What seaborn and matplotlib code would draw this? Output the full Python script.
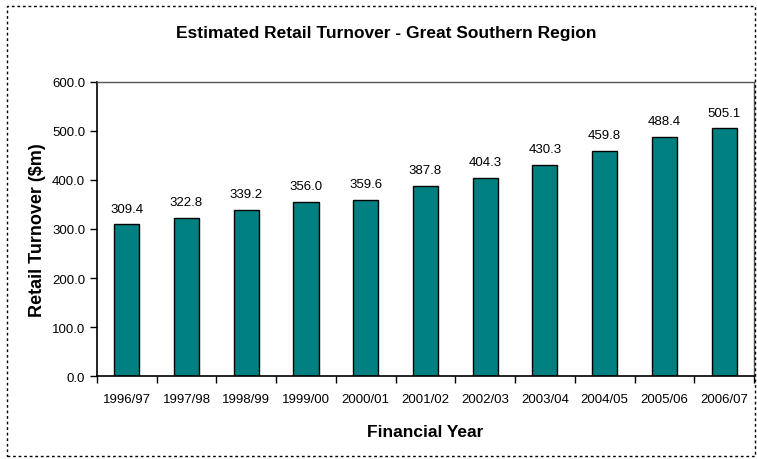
import seaborn as sns
import pandas as pd
import matplotlib.pyplot as plt
import numpy as np
from matplotlib.patches import Rectangle

years = ["1996/97", "1997/98", "1998/99", "1999/00", "2000/01", "2001/02",
         "2002/03", "2003/04", "2004/05", "2005/06", "2006/07"]
turnover = [309.4, 322.8, 339.2, 356.0, 359.6, 387.8, 404.3, 430.3, 459.8, 488.4, 505.1]

df = pd.DataFrame({"Year": years, "Turnover": turnover})

sns.set_theme(style="white")
plt.rcParams['font.family'] = ['Liberation Sans', 'DejaVu Sans']
plt.rcParams['text.color'] = 'black'
plt.rcParams['axes.labelcolor'] = 'black'
plt.rcParams['xtick.color'] = 'black'
plt.rcParams['ytick.color'] = 'black'

fig = plt.figure(figsize=(7.57, 4.6), dpi=100)
ax = fig.add_axes([0.128, 0.180, 0.868, 0.640])

sns.barplot(data=df, x="Year", y="Turnover", color="#008080", edgecolor="black",
            linewidth=1, width=0.42, saturation=1, ax=ax)

ax.bar_label(ax.containers[0], fmt="%.1f", padding=7, fontsize=9.5, color="black")

ax.set_xlim(-0.5, len(years) - 0.5)
ax.set_ylim(0, 600)
ax.set_yticks(np.arange(0, 601, 100))
ax.set_yticklabels([f"{v:.1f}" for v in np.arange(0, 601, 100)], fontsize=9.5)
ax.tick_params(axis="x", which="major", length=0, labelsize=9.5, pad=12)
ax.set_xticks(np.arange(-0.5, len(years), 1), minor=True)
ax.tick_params(axis="x", which="minor", length=5, width=1, color="black", direction="out", bottom=True)
ax.tick_params(axis="y", length=5, width=1, color="black", direction="out", left=True, labelsize=9.5)

for side in ["left", "bottom"]:
    ax.spines[side].set_color("black")
    ax.spines[side].set_linewidth(1.2)
for side in ["top", "right"]:
    ax.spines[side].set_color("#555555")
    ax.spines[side].set_linewidth(1)

ax.set_xlabel("Financial Year", fontsize=12.5, fontweight="bold", labelpad=14)
ax.set_ylabel("Retail Turnover ($m)", fontsize=13, fontweight="bold", labelpad=4)
fig.text(0.51, 0.928, "Estimated Retail Turnover - Great Southern Region",
         ha="center", va="center", fontsize=12.5, fontweight="bold")

border = Rectangle((0.009, 0.006), 0.989, 0.978, transform=fig.transFigure,
                   fill=False, edgecolor="black", linestyle=(0, (2, 2)), linewidth=1)
fig.patches.append(border)

plt.savefig("out.png", dpi=100)
